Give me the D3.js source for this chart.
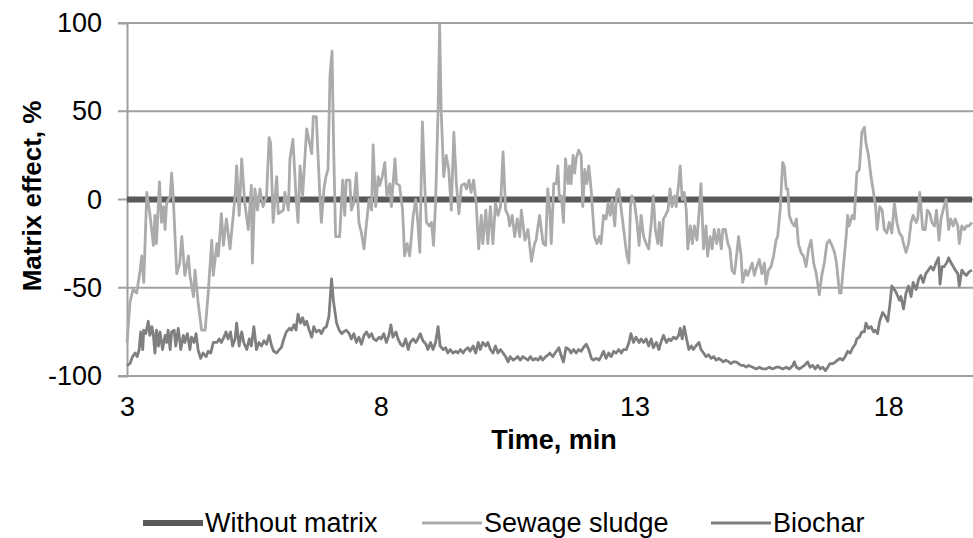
<!DOCTYPE html>
<html>
<head>
<meta charset="utf-8">
<script src="https://cdn.jsdelivr.net/npm/d3@7"></script>
<style>
  body { margin: 0; background: #fff; }
  svg { display: block; font-family: "Liberation Sans", Arial, sans-serif; }
</style>
</head>
<body>
<svg id="chart"></svg>
<script>
// Chart constants
const CHART = {
  width: 973,
  height: 538,
  left: 127,
  right: 972,
  top: 23,
  bottom: 376,
  fontSize: 27
};

// Axis ticks
const xTicks = [3, 8, 13, 18];
const yTicks = [-100, -50, 0, 50, 100];
const xDomain = [3, 19.65];

const seriesNames = ['Without matrix', 'Sewage sludge', 'Biochar'];
const seriesColors = ['#595959', '#ababab', '#7f7f7f'];
const seriesWidths = [6, 2.8, 2.8];

// [time (min), matrix effect (%)]
const withoutMatrix = [[3, 0], [19.65, 0]];

const sewageSludge = [
  [3.00,-81],[3.06,-58],[3.12,-51],[3.19,-53],[3.26,-40],[3.29,-32],[3.33,-47],[3.39,4],[3.45,-8],[3.52,-26],
  [3.55,-9],[3.58,-25],[3.64,10],[3.68,-13],[3.72,-4],[3.75,-17],[3.78,-2],[3.85,2],[3.88,15],[3.91,2],
  [3.98,-42],[4.04,-36],[4.08,-21],[4.14,-43],[4.21,-32],[4.24,-43],[4.31,-55],[4.34,-40],[4.40,-58],[4.47,-74],
  [4.54,-74],[4.60,-53],[4.67,-23],[4.70,-43],[4.77,-25],[4.80,-32],[4.86,-8],[4.90,-26],[4.96,-11],[5.03,-28],
  [5.13,2],[5.16,19],[5.21,-9],[5.26,23],[5.32,-2],[5.39,-17],[5.45,8],[5.47,-36],[5.52,6],[5.57,-6],
  [5.62,6],[5.68,-4],[5.75,2],[5.80,35],[5.83,32],[5.88,-13],[5.95,13],[5.98,-8],[6.08,-6],[6.11,4],
  [6.18,-6],[6.21,23],[6.27,34],[6.33,2],[6.37,-13],[6.41,19],[6.46,2],[6.54,40],[6.57,36],[6.64,26],
  [6.67,47],[6.73,47],[6.80,2],[6.83,-13],[6.88,6],[6.92,13],[6.96,17],[7.00,70],[7.04,84],
  [7.07,32],[7.11,-21],[7.19,-21],[7.25,11],[7.29,-9],[7.32,11],[7.39,11],[7.42,-6],[7.47,-2],[7.52,15],
  [7.57,-13],[7.62,-19],[7.67,-28],[7.72,-13],[7.77,0],[7.82,-6],[7.85,31],[7.90,-4],[7.95,13],[7.98,8],
  [8.03,13],[8.08,21],[8.12,2],[8.18,9],[8.21,-4],[8.28,23],[8.31,9],[8.37,8],[8.43,-6],[8.47,-32],
  [8.52,-25],[8.57,-32],[8.64,-9],[8.69,0],[8.73,-13],[8.77,-30],[8.82,44],[8.87,6],[8.90,-13],[8.96,-15],
  [9.00,-13],[9.04,-26],[9.08,-2],[9.13,51],[9.16,99],[9.19,51],[9.24,13],[9.29,25],[9.34,17],[9.39,-6],
  [9.44,38],[9.49,9],[9.54,-8],[9.59,8],[9.65,9],[9.69,6],[9.74,11],[9.78,4],[9.83,11],[9.88,-2],
  [9.93,-28],[9.98,-9],[10.01,-25],[10.07,-6],[10.11,-25],[10.16,-4],[10.21,-25],[10.26,-2],[10.31,-9],[10.36,-4],
  [10.41,27],[10.46,-6],[10.51,-9],[10.54,-15],[10.59,-9],[10.64,-21],[10.69,-11],[10.74,-21],[10.77,-6],[10.84,-23],
  [10.90,-17],[10.97,-35],[11.03,-25],[11.06,-23],[11.13,-9],
  [11.20,-25],[11.25,-26],[11.29,6],[11.33,-6],[11.36,-25],[11.41,9],[11.46,9],[11.49,19],[11.52,0],[11.56,2],
  [11.60,-13],[11.64,23],[11.69,9],[11.72,19],[11.75,9],[11.79,25],[11.82,15],[11.85,23],[11.90,28],[11.95,25],
  [11.98,-4],[12.02,17],[12.06,9],[12.10,19],[12.15,4],[12.18,-9],[12.21,-21],[12.26,-25],[12.31,-21],[12.34,-25],
  [12.39,-9],[12.44,-11],[12.48,-2],[12.52,-9],[12.56,0],[12.61,-15],[12.65,4],[12.69,6],[12.74,-6],[12.77,-13],
  [12.82,-25],[12.85,-32],[12.89,-36],[12.92,-4],[12.95,2],[13.00,-2],[13.05,-13],[13.09,-26],[13.13,-9],[13.18,-21],
  [13.23,-25],[13.28,-28],[13.33,-13],[13.37,2],[13.41,-17],[13.46,-25],[13.49,-13],[13.53,-26],[13.57,-11],[13.61,-9],
  [13.66,-6],[13.70,6],[13.74,-4],[13.79,2],[13.82,-4],[13.87,9],[13.90,19],[13.94,0],[13.98,4],[14.02,-6],
  [14.05,-28],[14.10,-15],[14.14,-25],[14.18,-15],[14.23,-23],[14.27,-8],[14.31,9],[14.36,-28],[14.41,-15],[14.44,-32],
  [14.49,-21],[14.53,-28],[14.57,-17],[14.62,-25],[14.66,-17],[14.71,-28],[14.74,-17],[14.79,-17],[14.84,-25],[14.88,-28],
  [14.92,-40],[14.97,-42],[15.01,-32],[15.05,-21],[15.10,-32],[15.13,-47],[15.19,-40],[15.23,-43],
  [15.32,-36],[15.36,-43],[15.41,-38],[15.46,-34],[15.51,-42],[15.56,-36],[15.59,-48],[15.64,-40],[15.69,-38],[15.74,-32],
  [15.79,-23],[15.82,-21],[15.87,-6],[15.92,21],[15.95,19],[15.99,6],[16.02,6],[16.05,-9],[16.10,-13],[16.15,-15],
  [16.19,-11],[16.23,-25],[16.28,-30],[16.33,-32],[16.38,-38],[16.43,-28],[16.48,-23],[16.53,-36],[16.58,-42],[16.64,-54],
  [16.69,-43],[16.74,-36],[16.79,-25],[16.84,-23],[16.89,-26],[16.94,-30],[16.98,-36],[17.04,-53],[17.07,-53],[17.11,-40],
  [17.17,-21],[17.20,-9],[17.23,-15],[17.29,-9],[17.33,-11],[17.38,15],[17.43,17],[17.48,38],[17.53,41],[17.56,32],
  [17.61,25],[17.66,13],[17.71,4],[17.75,-4],[17.78,-17],[17.83,-4],[17.88,-6],[17.92,-17],[17.97,-19],[18.02,-13],
  [18.07,-19],[18.12,-2],[18.17,-13],[18.22,-19],[18.27,-21],[18.30,-25],[18.35,-30],[18.40,-25],[18.45,-13],[18.49,-9],
  [18.55,-13],[18.58,-11],[18.62,4],[18.68,-17],[18.73,-17],[18.77,-6],[18.82,-8],[18.86,-13],[18.91,-15],[18.95,-6],
  [19.00,-23],[19.04,-11],[19.08,-6],[19.14,0],[19.19,-17],[19.23,-11],[19.28,-15],[19.32,-11],[19.37,-15],[19.40,-25],
  [19.45,-15],[19.50,-17],[19.54,-15],[19.59,-15],[19.65,-13]
];

const biochar = [
  [3.00,-94],[3.06,-93],[3.11,-89],[3.16,-87],[3.20,-89],[3.24,-85],[3.27,-75],[3.31,-85],[3.33,-74],[3.37,-76],
  [3.42,-69],[3.45,-77],[3.49,-72],[3.52,-77],[3.55,-87],[3.58,-74],[3.62,-83],[3.65,-75],[3.70,-85],[3.75,-77],
  [3.78,-81],[3.81,-74],[3.85,-85],[3.88,-75],[3.93,-74],[3.96,-83],[4.01,-73],[4.06,-85],[4.11,-77],[4.14,-81],
  [4.19,-76],[4.24,-85],[4.27,-78],[4.32,-81],[4.36,-76],[4.40,-85],[4.45,-90],[4.50,-87],[4.56,-89],[4.60,-86],
  [4.65,-87],[4.70,-81],[4.77,-81],[4.82,-79],[4.86,-81],[4.91,-78],[4.95,-75],[4.99,-79],[5.04,-75],[5.08,-83],
  [5.13,-79],[5.16,-70],[5.21,-83],[5.26,-75],[5.30,-81],[5.36,-85],[5.41,-79],[5.45,-83],[5.50,-72],[5.55,-85],
  [5.60,-81],[5.65,-83],[5.70,-80],[5.75,-82],[5.80,-77],[5.85,-83],[5.89,-86],[5.95,-87],[6.00,-85],[6.04,-84],
  [6.09,-79],[6.14,-75],[6.20,-73],[6.24,-74],[6.29,-71],[6.33,-74],[6.37,-65],[6.42,-70],[6.46,-67],[6.50,-71],
  [6.54,-69],[6.59,-74],[6.64,-78],[6.68,-72],[6.73,-75],[6.79,-74],[6.83,-76],[6.88,-73],[6.93,-72],[6.98,-66],
  [7.03,-45],[7.07,-58],[7.13,-70],[7.18,-74],[7.23,-76],[7.27,-75],[7.32,-74],[7.38,-76],[7.42,-79],[7.47,-76],
  [7.52,-81],[7.57,-78],[7.62,-82],[7.67,-77],[7.72,-75],[7.77,-78],[7.82,-76],[7.86,-79],[7.91,-80],[7.97,-78],
  [8.01,-79],[8.06,-76],[8.11,-81],[8.16,-77],[8.20,-71],[8.24,-78],[8.30,-75],[8.34,-79],[8.39,-82],[8.44,-83],
  [8.49,-79],[8.54,-85],[8.58,-81],[8.64,-79],[8.69,-81],[8.73,-79],[8.78,-76],[8.83,-80],[8.89,-82],[8.93,-85],
  [8.98,-81],[9.03,-85],[9.08,-81],[9.13,-72],[9.17,-83],[9.23,-85],[9.28,-84],[9.32,-87],[9.37,-85],[9.42,-87],
  [9.48,-86],[9.52,-87],[9.57,-85],[9.62,-87],[9.67,-85],[9.72,-84],[9.76,-86],[9.82,-83],[9.87,-87],[9.92,-81],
  [9.96,-85],[10.01,-81],[10.07,-83],[10.11,-81],[10.16,-85],[10.21,-87],[10.26,-83],[10.31,-87],[10.36,-85],[10.41,-87],
  [10.46,-89],[10.51,-92],[10.55,-89],[10.61,-91],[10.66,-90],[10.70,-89],[10.75,-91],[10.80,-89],[10.85,-90],[10.90,-91],
  [10.95,-89],[11.00,-91],[11.05,-90],[11.10,-91],[11.15,-89],[11.19,-91],[11.25,-89],[11.30,-88],
  [11.33,-87],[11.39,-89],[11.46,-86],[11.51,-84],[11.56,-89],[11.60,-92],[11.65,-84],[11.71,-85],[11.75,-87],[11.80,-85],
  [11.85,-87],[11.90,-85],[11.95,-86],[11.99,-84],[12.05,-82],[12.10,-85],[12.15,-90],[12.19,-91],[12.25,-90],[12.30,-91],
  [12.34,-89],[12.39,-86],[12.44,-90],[12.49,-87],[12.54,-89],[12.59,-86],[12.64,-87],[12.69,-85],[12.74,-87],[12.78,-85],
  [12.84,-85],[12.89,-81],[12.93,-76],[12.98,-81],[13.03,-78],[13.09,-81],[13.13,-79],[13.18,-81],[13.23,-79],[13.28,-83],
  [13.33,-79],[13.37,-84],[13.43,-81],[13.48,-85],[13.52,-81],[13.57,-77],[13.63,-81],[13.68,-79],[13.72,-80],[13.77,-78],
  [13.82,-79],[13.87,-77],[13.90,-73],[13.94,-79],[13.98,-72],[14.02,-78],[14.07,-85],[14.12,-83],[14.16,-85],[14.21,-83],
  [14.27,-81],[14.31,-85],[14.36,-87],[14.41,-89],[14.46,-88],[14.51,-90],[14.56,-89],[14.61,-91],[14.66,-90],[14.71,-91],
  [14.75,-92],[14.80,-91],[14.86,-92],[14.90,-93],[14.95,-92],[15.00,-92],[15.05,-93],[15.10,-94],[15.15,-94],[15.20,-95],
  [15.25,-94],[15.33,-95],[15.40,-96],[15.46,-95],[15.53,-96],[15.59,-96],[15.66,-95],[15.72,-96],[15.79,-95],[15.85,-95],
  [15.92,-96],[15.99,-95],[16.05,-96],[16.12,-94],[16.15,-92],[16.19,-95],[16.25,-96],[16.30,-95],[16.35,-94],[16.41,-92],
  [16.46,-95],[16.51,-94],[16.56,-96],[16.61,-94],[16.66,-96],[16.71,-95],[16.76,-97],[16.81,-95],[16.85,-93],[16.91,-93],
  [16.96,-92],[17.00,-91],[17.05,-90],[17.10,-91],[17.15,-89],[17.20,-86],[17.25,-87],[17.30,-84],[17.35,-82],[17.38,-79],
  [17.43,-78],[17.48,-75],[17.53,-75],[17.56,-70],[17.61,-73],[17.66,-72],[17.71,-75],[17.74,-74],[17.79,-76],[17.83,-69],
  [17.89,-64],[17.94,-66],[17.99,-69],[18.03,-60],[18.07,-49],[18.12,-51],[18.16,-53],[18.22,-57],[18.25,-55],[18.30,-62],
  [18.35,-53],[18.40,-49],[18.45,-55],[18.49,-47],[18.55,-51],[18.60,-45],[18.64,-43],[18.69,-47],[18.74,-42],[18.79,-40],
  [18.84,-38],[18.89,-40],[18.94,-36],[18.99,-33],[19.02,-48],[19.06,-38],[19.10,-38],[19.15,-36],[19.19,-33],[19.24,-36],
  [19.28,-38],[19.32,-40],[19.37,-42],[19.40,-49],[19.45,-40],[19.50,-42],[19.54,-43],[19.59,-41],[19.65,-40]
];

const seriesData = [withoutMatrix, sewageSludge, biochar];

/**
 * Draw the whole chart into the svg element
 */
function drawChart() {
  const svg = d3.select('#chart')
    .attr('width', CHART.width)
    .attr('height', CHART.height);

  const x = d3.scaleLinear().domain(xDomain).range([CHART.left, CHART.right]);
  const y = d3.scaleLinear().domain([-100, 100]).range([CHART.bottom, CHART.top]);

  // Horizontal gridlines (with small tick stubs left of the axis)
  svg.append('g')
    .selectAll('line')
    .data(yTicks)
    .enter().append('line')
    .attr('x1', CHART.left - 9)
    .attr('x2', CHART.right + 1)
    .attr('y1', d => y(d))
    .attr('y2', d => y(d))
    .attr('stroke', '#a0a0a0')
    .attr('stroke-width', 2);

  // Y axis labels (plain hyphen for negatives, as in the original)
  const yAxis = svg.append('g')
    .attr('transform', `translate(${CHART.left},0)`)
    .call(d3.axisLeft(y).tickValues(yTicks).tickFormat(d => String(d)).tickSize(9).tickPadding(16));
  yAxis.select('.domain').attr('stroke', '#a0a0a0').attr('stroke-width', 2);
  yAxis.selectAll('.tick line').remove();
  yAxis.selectAll('text')
    .style('font-size', CHART.fontSize + 'px')
    .style('font-family', '"Liberation Sans", Arial, sans-serif')
    .attr('fill', '#000');

  // X axis labels
  const xAxis = svg.append('g')
    .attr('transform', `translate(0,${CHART.bottom})`)
    .call(d3.axisBottom(x).tickValues(xTicks).tickSize(0).tickPadding(21));
  xAxis.select('.domain').remove();
  xAxis.selectAll('text')
    .style('font-size', CHART.fontSize + 'px')
    .style('font-family', '"Liberation Sans", Arial, sans-serif')
    .attr('fill', '#000');

  // Series lines
  const line = d3.line()
    .x(d => x(d[0]))
    .y(d => y(d[1]));

  svg.append('g')
    .selectAll('path')
    .data(seriesData)
    .enter().append('path')
    .attr('d', line)
    .attr('fill', 'none')
    .attr('stroke', (d, i) => seriesColors[i])
    .attr('stroke-width', (d, i) => seriesWidths[i])
    .attr('stroke-linejoin', 'round');

  // Axis titles
  svg.append('text')
    .attr('x', 554)
    .attr('y', 449)
    .attr('text-anchor', 'middle')
    .style('font-size', CHART.fontSize + 'px')
    .style('font-weight', 'bold')
    .text('Time, min');

  svg.append('text')
    .attr('transform', 'translate(41,196) rotate(-90)')
    .attr('text-anchor', 'middle')
    .style('font-size', '26px')
    .style('font-weight', 'bold')
    .text('Matrix effect, %');

  // Legend
  const legendX = [143, 422, 711];
  const legend = svg.append('g')
    .selectAll('g')
    .data(seriesNames)
    .enter().append('g')
    .attr('transform', (d, i) => `translate(${legendX[i]},523)`);

  legend.append('line')
    .attr('x1', 0)
    .attr('x2', 60)
    .attr('stroke', (d, i) => seriesColors[i])
    .attr('stroke-width', (d, i) => i === 0 ? 6 : 2.8);

  legend.append('text')
    .attr('x', 62)
    .attr('dy', '0.35em')
    .style('font-size', CHART.fontSize + 'px')
    .text(d => d);
}

drawChart();
</script>
</body>
</html>
